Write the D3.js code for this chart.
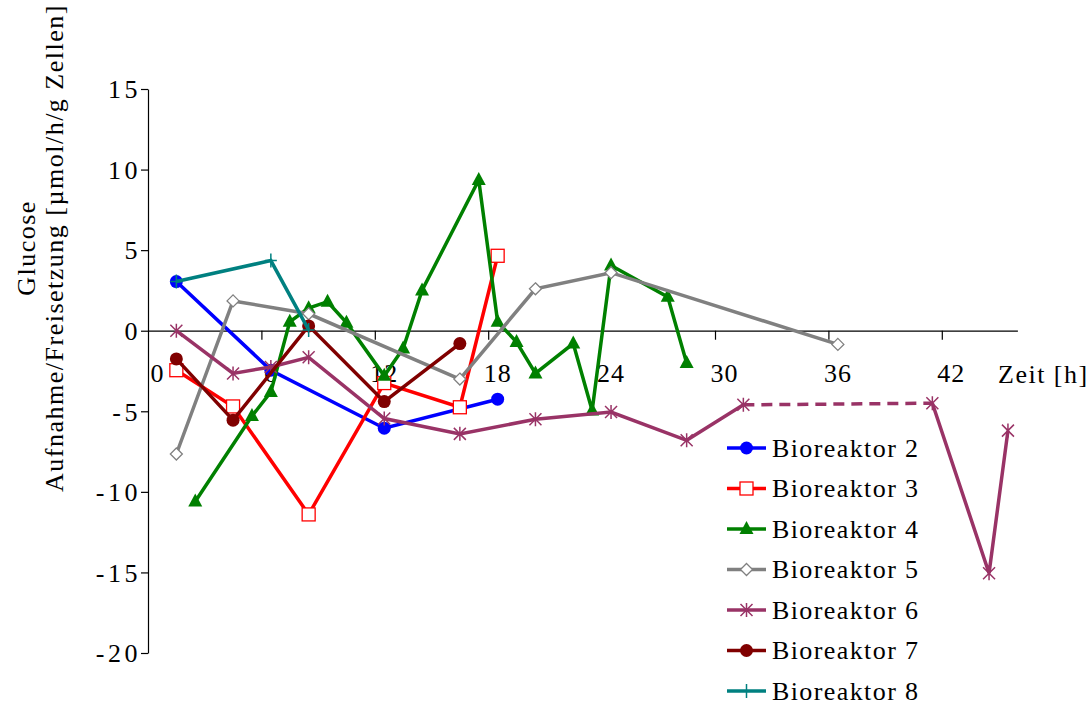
<!DOCTYPE html>
<html>
<head>
<meta charset="utf-8">
<script src="https://cdn.jsdelivr.net/npm/d3@7"></script>
<style>
  body { margin: 0; background: #fff; }
  text { font-family: "Liberation Serif", "Times New Roman", serif; }
</style>
</head>
<body>
<script>
"use strict";
// Zeit [h] und Glucose-Rate je Bioreaktor
const times2 = [1.5, 6.5, 12.5, 18.5];
const values2 = [3.05, -2.45, -6.05, -4.25];
const times3 = [1.5, 4.5, 8.5, 12.5, 16.5, 18.5];
const values3 = [-2.45, -4.7, -11.4, -3.25, -4.75, 4.65];
const times4 = [2.5, 5.5, 6.5, 7.5, 8.5, 9.5, 10.5, 12.5, 13.5, 14.5, 17.5, 18.5, 19.5, 20.5, 22.5, 23.5, 24.5, 27.5, 28.5];
const values4 = [-10.6, -5.3, -3.8, 0.55, 1.4, 1.8, 0.5, -2.8, -1.1, 2.5, 9.35, 0.55, -0.7, -2.65, -0.8, -4.95, 4.05, 2.1, -2.0];
const times5 = [1.5, 4.5, 8.5, 16.5, 20.5, 24.5, 36.5];
const values5 = [-7.65, 1.85, 1.05, -3.0, 2.6, 3.6, -0.85];
const times6 = [1.5, 4.5, 6.5, 8.5, 12.5, 16.5, 20.5, 24.5, 28.5, 31.5, 41.5, 44.5, 45.5];
const values6 = [0, -2.65, -2.25, -1.65, -5.45, -6.4, -5.5, -5.05, -6.8, -4.6, -4.5, -15.05, -6.2];
const times7 = [1.5, 4.5, 8.5, 12.5, 16.5];
const values7 = [-1.75, -5.55, 0.3, -4.4, -0.8];
const times8 = [1.5, 6.5, 8.5];
const values8 = [3.05, 4.35, 0.05];
// Abschnitt ohne Messwerte (gestrichelt), Reaktor 6
const gap6 = [31.5, 41.5];

const names = ["Bioreaktor 2", "Bioreaktor 3", "Bioreaktor 4", "Bioreaktor 5", "Bioreaktor 6", "Bioreaktor 7", "Bioreaktor 8"];
const xTicks = [0, 6, 12, 18, 24, 30, 36, 42];
const yTicks = [15, 10, 5, 0, -5, -10, -15, -20];

const colors = ["#0000ff", "#ff0000", "#008000", "#808080", "#993366", "#800000", "#008080"];
const markers = ["circle", "square", "triangle", "diamond", "star", "circle", "plus"];

const series = [
	[times2, values2], [times3, values3], [times4, values4], [times5, values5],
	[times6, values6], [times7, values7], [times8, values8]
].map((s, i) => ({
	name: names[i], color: colors[i], marker: markers[i],
	points: s[0].map((t, j) => ({t: t, v: s[1][j]}))
}));

const size = {"width": 1088, "height": 704};
const x = d3.scaleLinear().domain([0, 46]).range([148, 1017.4]);
const y = d3.scaleLinear().domain([-20, 15]).range([653, 89]);

const svg = d3.select("body").append("svg").attr("width", size.width).attr("height", size.height);

// axes
const yAxis = svg.append("g").attr("transform", "translate(148,0)")
	.call(d3.axisLeft(y).tickValues(yTicks).tickSize(7).tickSizeOuter(0).tickPadding(4).tickFormat(d => d));
const xAxis = svg.append("g").attr("transform", "translate(0," + y(0) + ")")
	.call(d3.axisBottom(x).tickValues(xTicks).tickSize(9).tickSizeOuter(0).tickFormat(d => d));
[yAxis, xAxis].forEach(g => {
	g.selectAll("path, line").attr("stroke", "#000").attr("stroke-width", 1.2);
	g.selectAll("text").attr("fill", "#000").style("font-size", "26px");
});
yAxis.selectAll("text").attr("dy", "0.34em").attr("x", -7).style("letter-spacing", "3.5px");
xAxis.selectAll("text").attr("y", 51).attr("dy", 0).attr("dx", 9).style("letter-spacing", "1px");
xAxis.selectAll(".tick").filter(d => d === 0).select("line").remove();

svg.append("text").attr("x", 998).attr("y", 383).style("font-size", "26px").style("letter-spacing", "1.5px").text("Zeit [h]");

const title = svg.append("text").attr("transform", "translate(0,248) rotate(-90)")
	.attr("text-anchor", "middle").style("font-size", "26px").style("letter-spacing", "1.5px");
title.append("tspan").attr("x", 0).attr("y", 35).text("Glucose");
title.append("tspan").attr("x", 0).attr("y", 63).text("Aufnahme/Freisetzung [µmol/h/g Zellen]");

// markers
function drawMarker(g, type, color) {
	if (type === "circle") {
		g.append("circle").attr("r", 6.5).attr("fill", color);
	} else if (type === "square") {
		g.append("rect").attr("x", -6.5).attr("y", -6.5).attr("width", 13).attr("height", 13)
			.attr("fill", "#fff").attr("stroke", color).attr("stroke-width", 1.3);
	} else if (type === "triangle") {
		g.append("path").attr("d", "M0,-8L7,5L-7,5Z").attr("fill", color);
	} else if (type === "diamond") {
		g.append("path").attr("d", "M0,-6L6,0L0,6L-6,0Z").attr("fill", "#fff").attr("stroke", color).attr("stroke-width", 1.3);
	} else if (type === "star") {
		g.append("path").attr("d", "M-6,-6L6,6M-6,6L6,-6M0,-7L0,7").attr("stroke", color).attr("stroke-width", 1.5).attr("fill", "none");
	} else if (type === "plus") {
		g.append("path").attr("d", "M0,-7L0,7M-6,0L6,0").attr("stroke", color).attr("stroke-width", 1.5).attr("fill", "none");
	}
}

const line = d3.line().x(d => x(d.t)).y(d => y(d.v));
const plot = svg.append("g");
series.forEach(s => {
	const g = plot.append("g");
	// split into solid and dashed runs
	let runs = [], cur = [s.points[0]], curDash = false;
	for (let j = 1; j < s.points.length; j++) {
		const a = s.points[j - 1], b = s.points[j];
		const dash = s.name === "Bioreaktor 6" && a.t === gap6[0] && b.t === gap6[1];
		if (dash !== curDash) {
			runs.push({pts: cur, dash: curDash});
			cur = [a];
			curDash = dash;
		}
		cur.push(b);
	}
	runs.push({pts: cur, dash: curDash});
	runs.forEach(r => {
		g.append("path").attr("d", line(r.pts)).attr("fill", "none").attr("stroke", s.color)
			.attr("stroke-width", 3.5).attr("stroke-linejoin", "miter")
			.attr("stroke-dasharray", r.dash ? "11,7" : null);
	});
	g.selectAll("g.m").data(s.points).enter().append("g").attr("class", "m")
		.attr("transform", d => "translate(" + x(d.t) + "," + y(d.v) + ")")
		.each(function() { drawMarker(d3.select(this), s.marker, s.color); });
});

// legend
const legend = svg.append("g");
series.forEach((s, i) => {
	const cy = 448 + i * 40.5;
	const row = legend.append("g").attr("transform", "translate(0," + cy + ")");
	row.append("line").attr("x1", 727).attr("x2", 766).attr("stroke", s.color).attr("stroke-width", 3.5);
	drawMarker(row.append("g").attr("transform", "translate(746.5,0)"), s.marker, s.color);
	row.append("text").attr("x", 772).attr("y", 8.5).style("font-size", "26px").style("letter-spacing", "1.4px").text(s.name);
});
</script>
</body>
</html>
